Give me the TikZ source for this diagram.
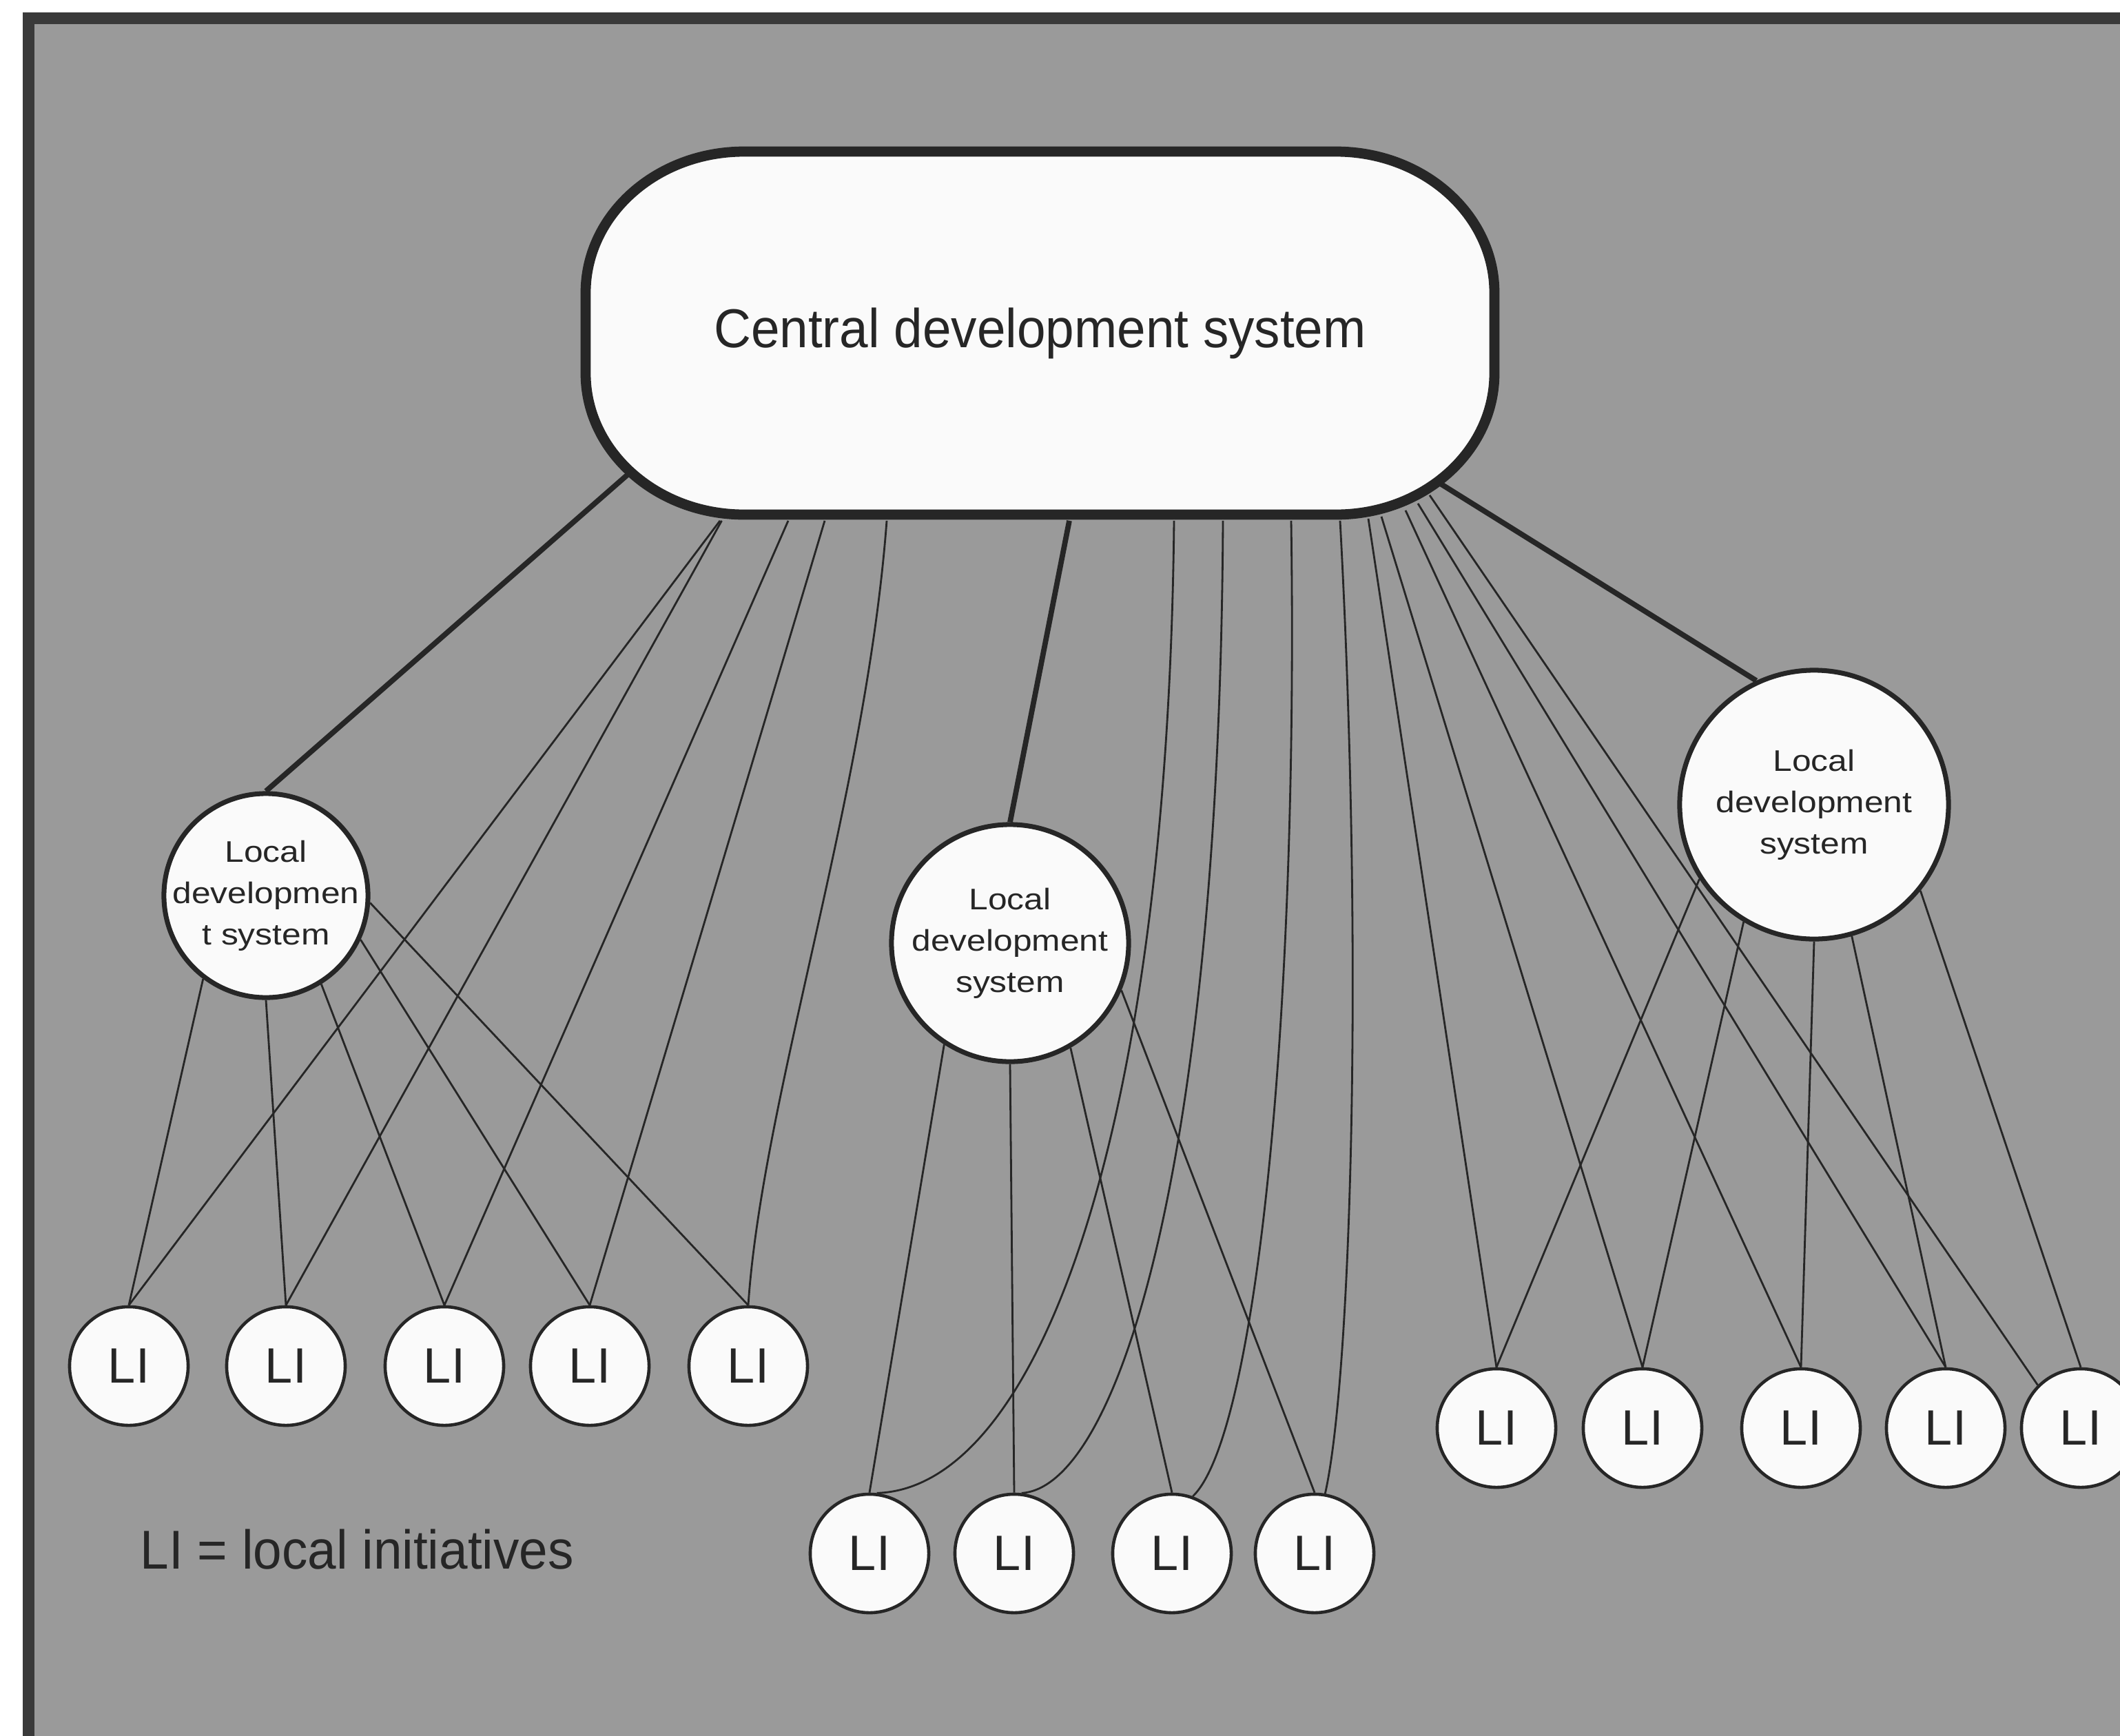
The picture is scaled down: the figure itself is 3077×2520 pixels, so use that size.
\documentclass[tikz,border=0pt]{standalone}
\usepackage{fontspec}
\setmainfont{Liberation Sans}
\newfontfamily\headfont{Liberation Sans}[FakeStretch=0.94]
\newfontfamily\widefont{Liberation Sans}[FakeStretch=1.15]
\usetikzlibrary{calc}

\definecolor{paper}{RGB}{154,154,154}
\definecolor{framecol}{RGB}{58,58,58}
\definecolor{ink}{RGB}{38,38,38}
\definecolor{nodefill}{RGB}{250,250,250}

\pgfdeclarelayer{paperlayer}
\pgfdeclarelayer{wires}
\pgfsetlayers{paperlayer,wires,main}

\tikzset{
  wire/.style={draw=ink, line width=0.8pt},
  trunk/.style={draw=ink, line width=2.2pt},
  frameline/.style={draw=framecol, line width=0.17cm},
  pillshape/.style={draw=ink, line width=4.2pt, fill=nodefill},
  pillbox/.style={rectangle, minimum width=13.35cm, minimum height=5.43cm,
    inner sep=0pt, text=ink, font=\headfont\fontsize{22.6}{27}\selectfont},
  ldsys/.style={circle, draw=ink, line width=2pt, fill=nodefill, inner sep=0pt},
  ldtext/.style={font=\widefont\fontsize{12.3}{17.1}\selectfont, align=center,
    text=ink, inner sep=0pt},
  initiative/.style={circle, draw=ink, line width=1.3pt, fill=nodefill,
    minimum size=1.72cm, inner sep=0pt, text=ink,
    font=\fontsize{20.5}{25}\selectfont},
  keytext/.style={text=ink, inner sep=0pt,
    font=\headfont\fontsize{22.6}{27}\selectfont}
}

\begin{document}
\begin{tikzpicture}[x=0.01cm, y=-0.01cm]
\useasboundingbox (0,0) rectangle (3077,2520);

% paper, grey panel and its frame
\begin{pgfonlayer}{paperlayer}
  \fill[white] (0,0) rectangle (3077,2520);
  \fill[paper] (41.5,26) rectangle (3077,2520);
  \draw[frameline] (41.5,2520) -- (41.5,26) -- (3077,26);
\end{pgfonlayer}

% central system: pill outline with elliptic ends
\path[pillshape] (1080,220) -- (1939,220)
  arc[start angle=-90, end angle=0, x radius=230, y radius=205] -- (2169,542)
  arc[start angle=0, end angle=90, x radius=230, y radius=205] -- (1080,747)
  arc[start angle=90, end angle=180, x radius=230, y radius=205] -- (850,425)
  arc[start angle=180, end angle=270, x radius=230, y radius=205] -- cycle;
\node[pillbox] (cds) at (1509.5,483.5) {Central development system};

% local development systems
\node[ldsys, minimum size=2.96cm,
  label={[ldtext]center:Local\\developmen\\t system}] (lds1) at (386,1300) {};
\node[ldsys, minimum size=3.44cm,
  label={[ldtext]center:Local\\development\\system}] (lds2) at (1466,1369) {};
\node[ldsys, minimum size=3.90cm,
  label={[ldtext]center:Local\\development\\system}] (lds3) at (2633,1168) {};

% local initiatives, left group
\node[initiative] (a1) at (187,1983) {LI};
\node[initiative] (a2) at (415,1983) {LI};
\node[initiative] (a3) at (645,1983) {LI};
\node[initiative] (a4) at (856,1983) {LI};
\node[initiative] (a5) at (1086,1983) {LI};

% local initiatives, middle group
\node[initiative] (b1) at (1262,2255) {LI};
\node[initiative] (b2) at (1472,2255) {LI};
\node[initiative] (b3) at (1701,2255) {LI};
\node[initiative] (b4) at (1908,2255) {LI};

% local initiatives, right group
\node[initiative] (c1) at (2172,2073) {LI};
\node[initiative] (c2) at (2384,2073) {LI};
\node[initiative] (c3) at (2614,2073) {LI};
\node[initiative] (c4) at (2824,2073) {LI};
\node[initiative] (c5) at (3020,2073) {LI};

% key
\node[keytext, anchor=base west] (key) at (203,2277) {LI = local initiatives};

\begin{pgfonlayer}{wires}
  % central system to the local systems
  \draw[trunk] ($(cds.south)+(-591.5,-73)$) -- (lds1.north);
  \draw[trunk] ($(cds.south)+(42.5,0)$) -- (lds2.north);
  \draw[trunk] ($(cds.south)+(569.5,-61)$) -- (lds3.115);

  % left group
  \draw[wire] ($(cds.south)+(-464.5,0)$) -- (a1.north);
  \draw[wire] ($(cds.south)+(-462,0)$) -- (a2.north);
  \draw[wire] ($(cds.south)+(-365.5,0)$) -- (a3.north);
  \draw[wire] ($(cds.south)+(-312.5,0)$) -- (a4.north);
  \draw[wire] ($(cds.south)+(-222.5,0)$) .. controls +(-30,400) and +(20,-300) .. (a5.north);
  \draw[wire] (lds1.-127) -- (a1.north);
  \draw[wire] (lds1.-90) -- (a2.north);
  \draw[wire] (lds1.-58) -- (a3.north);
  \draw[wire] (lds1.-25) -- (a4.north);
  \draw[wire] (lds1.-4) -- (a5.north);

  % middle group
  \draw[wire] (lds2.-123) -- (b1.north);
  \draw[wire] (lds2.-90) -- (b2.north);
  \draw[wire] (lds2.-60) -- (b3.north);
  \draw[wire] (lds2.-23) -- (b4.north);
  \draw[wire] ($(cds.south)+(194.5,0)$) .. controls +(-9,895) and +(232,-7) .. (b1.83);
  \draw[wire] ($(cds.south)+(265.5,0)$) .. controls +(-5,945) and +(137,-8) .. (b2.83);
  \draw[wire] ($(cds.south)+(364.5,0)$) .. controls +(11,745) and +(89,-84) .. (b3.70);
  \draw[wire] ($(cds.south)+(435.5,0)$) .. controls +(35,645) and +(37,-164) .. (b4.80);

  % right group
  \draw[wire] (lds3.-147) -- (c1.north);
  \draw[wire] (lds3.-121) -- (c2.north);
  \draw[wire] (lds3.-90) -- (c3.north);
  \draw[wire] (lds3.-74) -- (c4.north);
  \draw[wire] (lds3.-39) -- (c5.north);
  \draw[wire] ($(cds.south)+(476.5,-3)$) -- (c1.north);
  \draw[wire] ($(cds.south)+(495.5,-6)$) -- (c2.north);
  \draw[wire] ($(cds.south)+(530.5,-15)$) -- (c3.north);
  \draw[wire] ($(cds.south)+(548.5,-25)$) -- (c4.north);
  \draw[wire] ($(cds.south)+(565.5,-37)$) -- (c5.135);
\end{pgfonlayer}
\end{tikzpicture}
\end{document}
